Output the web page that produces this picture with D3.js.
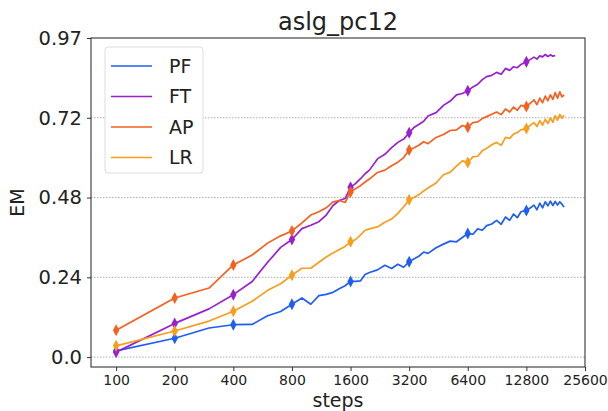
<!DOCTYPE html>
<html>
<head>
<meta charset="utf-8">
<script src="https://cdn.jsdelivr.net/npm/d3@7"></script>
<style>
  body { margin: 0; background: #fff; }
  svg { font-family: "DejaVu Sans", sans-serif; }
</style>
</head>
<body>
<svg id="chart" width="608" height="411"></svg>
<script>
// ---- data ----
var steps = [100,200,300,400,500,600,700,800,900,1000,1100,1200,1300,1400,1500,1600,1700,1800,1900,2000,
  2200,2400,2600,2800,3000,3200,3400,3600,3800,4000,4400,4800,5200,5600,6000,6400,6800,7200,7600,8000,
  8500,9000,9500,10000,10500,11000,11500,12000,12800,13500,14000,14500,15000,15500,16000,16500,17000,17500,18000,
  18500,19000,19500,20000];

var pfValues = [.019,.057,.088,.098,.099,.125,.138,.160,.179,.160,.186,.190,.196,.207,.216,.229,.229,.231,.250,.256,
  .264,.278,.268,.281,.272,.289,.298,.306,.318,.314,.331,.342,.351,.349,.362,.374,.372,.388,.384,.398,
  .403,.414,.402,.424,.414,.433,.422,.440,.444,.453,.460,.446,.466,.452,.470,.458,.472,.459,.471,
  .460,.470,.463,.454];

var ftValues = [.015,.102,.146,.189,.229,.287,.332,.356,.389,.399,.410,.430,.459,.474,.480,.514,.526,.540,.555,.566,
  .600,.614,.634,.650,.660,.679,.696,.705,.714,.730,.740,.762,.775,.794,.798,.806,.818,.826,.840,.849,
  .853,.862,.856,.874,.868,.879,.876,.886,.894,.902,.908,.902,.912,.909,.916,.910,.915,.911,.913,
  null,null,null,null];

var apValues = [.081,.179,.209,.279,.309,.345,.367,.382,.406,.430,.440,.452,.470,.474,.468,.500,.510,.519,.530,.539,
  .559,.566,.579,.590,.604,.627,.634,.642,.652,.646,.665,.674,.686,.688,.701,.696,.710,.712,.722,.728,
  .735,.742,.734,.751,.742,.757,.747,.762,.759,.770,.779,.764,.784,.770,.790,.776,.794,.780,.801,
  .784,.803,.788,.794];

var lrValues = [.034,.079,.109,.139,.169,.202,.222,.248,.269,.269,.287,.303,.315,.326,.335,.349,.356,.370,.384,.388,
  .394,.408,.418,.435,.455,.476,.484,.492,.503,.512,.527,.552,.560,.578,.594,.589,.606,.608,.625,.632,
  .643,.650,.641,.665,.662,.675,.680,.688,.692,.703,.710,.698,.716,.702,.720,.707,.724,.711,.731,
  .717,.735,.723,.732];

var seriesNames = ["PF", "FT", "AP", "LR"];
var seriesColors = ["#1f5ef0", "#9a1fd0", "#f5601e", "#f99d1c"];
var markerSteps = [100,200,400,800,1600,3200,6400,12800];

var xTicks = [100,200,400,800,1600,3200,6400,12800,25600];
var yTicks = [0, 0.2415, 0.483, 0.7245, 0.966];
var yTickLabels = ["0.0", "0.24", "0.48", "0.72", "0.97"];

// ---- chart ----
var svg = d3.select("#chart");
var plotLeft = 91, plotRight = 585, plotTop = 38, plotBottom = 367;

var x = d3.scaleLog().base(2).domain([74.3, 25600]).range([plotLeft, plotRight]);
var y = d3.scaleLinear().domain([-0.03, 0.966]).range([plotBottom, plotTop]);

var allValues = [pfValues, ftValues, apValues, lrValues];
var series = seriesNames.map(function(name, i) {
  return {
    name: name,
    color: seriesColors[i],
    points: steps.map(function(s, j) { return {step: s, value: allValues[i][j]}; })
  };
});

// grid lines (dotted)
svg.append("g")
  .selectAll("line")
  .data(yTicks.slice(0, 4))
  .enter().append("line")
  .attr("x1", plotLeft).attr("x2", plotRight)
  .attr("y1", function(d) { return y(d); })
  .attr("y2", function(d) { return y(d); })
  .attr("stroke", "#999")
  .attr("stroke-width", 0.8)
  .attr("stroke-dasharray", "1.5,1.5");

// lines
var line = d3.line()
  .defined(function(d) { return d.value !== null; })
  .x(function(d) { return x(d.step); })
  .y(function(d) { return y(d.value); });

var lineG = svg.append("g");
series.forEach(function(s) {
  lineG.append("path")
    .datum(s.points)
    .attr("fill", "none")
    .attr("stroke", s.color)
    .attr("stroke-width", 1.7)
    .attr("stroke-linejoin", "round")
    .attr("d", line);
});

// thin diamond markers
var diamond = "M0,-6L3.2,0L0,6L-3.2,0Z";
series.forEach(function(s) {
  lineG.append("g")
    .selectAll("path")
    .data(s.points.filter(function(d) { return markerSteps.indexOf(d.step) >= 0 && d.value !== null; }))
    .enter().append("path")
    .attr("d", diamond)
    .attr("transform", function(d) { return "translate(" + x(d.step) + "," + y(d.value) + ")"; })
    .attr("fill", s.color);
});

// frame
svg.append("rect")
  .attr("x", plotLeft).attr("y", plotTop)
  .attr("width", plotRight - plotLeft).attr("height", plotBottom - plotTop)
  .attr("fill", "none")
  .attr("stroke", "#333")
  .attr("stroke-width", 1.1);

// x axis
var xAxis = d3.axisBottom(x)
  .tickValues(xTicks)
  .tickFormat(function(d) { return d; })
  .tickSize(4)
  .tickPadding(4);
var xg = svg.append("g")
  .attr("transform", "translate(0," + plotBottom + ")")
  .call(xAxis);
xg.select(".domain").remove();
xg.selectAll("text").attr("font-size", 14).attr("fill", "#222").attr("font-family", "DejaVu Sans");
xg.selectAll("line").attr("stroke", "#333");

// y axis
var yAxis = d3.axisLeft(y)
  .tickValues(yTicks)
  .tickFormat(function(d, i) { return yTickLabels[i]; })
  .tickSize(4)
  .tickPadding(5);
var yg = svg.append("g")
  .attr("transform", "translate(" + plotLeft + ",0)")
  .call(yAxis);
yg.select(".domain").remove();
yg.selectAll("text").attr("font-size", 19.5).attr("fill", "#222").attr("font-family", "DejaVu Sans");
yg.selectAll("line").attr("stroke", "#333");

// titles
svg.append("text")
  .attr("x", (plotLeft + plotRight) / 2).attr("y", 30)
  .attr("text-anchor", "middle")
  .attr("font-size", 24)
  .attr("fill", "#222")
  .text("aslg_pc12");

svg.append("text")
  .attr("x", (plotLeft + plotRight) / 2).attr("y", 407)
  .attr("text-anchor", "middle")
  .attr("font-size", 19)
  .attr("fill", "#222")
  .text("steps");

svg.append("text")
  .attr("transform", "translate(24," + ((plotTop + plotBottom) / 2) + ")rotate(-90)")
  .attr("text-anchor", "middle")
  .attr("font-size", 19)
  .attr("fill", "#222")
  .text("EM");

// legend
var legend = svg.append("g").attr("transform", "translate(105,47)");
legend.append("rect")
  .attr("width", 98).attr("height", 126)
  .attr("rx", 3)
  .attr("fill", "#fff")
  .attr("fill-opacity", 0.9)
  .attr("stroke", "#ddd");

var item = legend.selectAll("g.item")
  .data(series)
  .enter().append("g")
  .attr("class", "item")
  .attr("transform", function(d, i) { return "translate(0," + (19 + i * 30.5) + ")"; });

item.append("line")
  .attr("x1", 6).attr("x2", 47)
  .attr("stroke", function(d) { return d.color; })
  .attr("stroke-width", 1.6);

item.append("text")
  .attr("x", 64)
  .attr("dy", "0.35em")
  .attr("font-size", 19)
  .attr("fill", "#222")
  .text(function(d) { return d.name; });
</script>
</body>
</html>
